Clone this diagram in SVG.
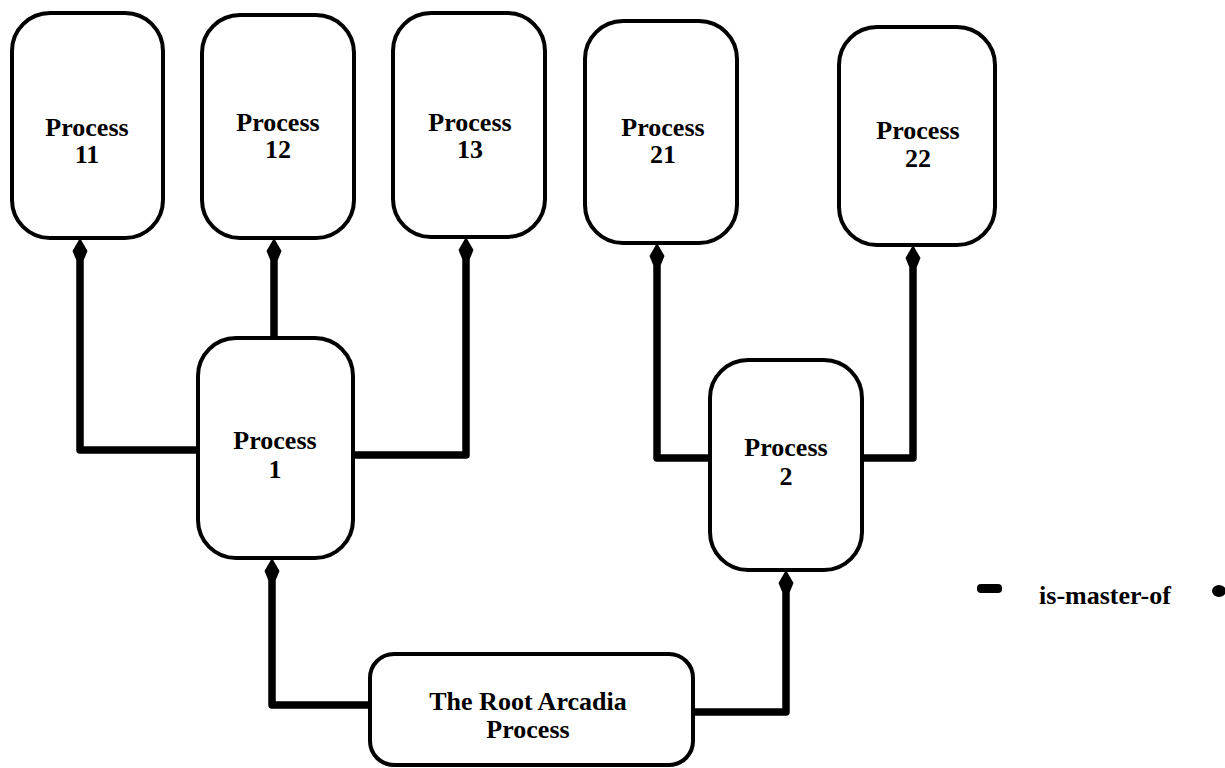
<svg xmlns="http://www.w3.org/2000/svg" width="1225" height="768" viewBox="0 0 1225 768">
<style>
.node{fill:#fff;stroke:#000;stroke-width:4}
.lbl{font-family:"Liberation Serif","Times New Roman",serif;font-size:26px;font-weight:bold;text-anchor:middle;fill:#000}
.conn{fill:none;stroke:#000;stroke-width:7.5;stroke-linejoin:round}
</style>
<defs>
<marker id="ah" markerUnits="userSpaceOnUse" orient="auto" refX="0" refY="0" markerWidth="30" markerHeight="20" viewBox="-2 -10 30 20" overflow="visible">
<path d="M22,0 L9,-7.5 L0,-3.8 L0,3.8 L9,7.5 Z" fill="#000"/>
</marker>
</defs>
<rect width="1225" height="768" fill="#fff"/>
<g id="connectors">
<path class="conn" d="M198,450 H80 V260" marker-end="url(#ah)"/>
<path class="conn" d="M274,338 V260" marker-end="url(#ah)"/>
<path class="conn" d="M352,455 H466 V259" marker-end="url(#ah)"/>
<path class="conn" d="M710,458 H657 V265" marker-end="url(#ah)"/>
<path class="conn" d="M862,458 H913 V267" marker-end="url(#ah)"/>
<path class="conn" d="M370,705 H272 V580" marker-end="url(#ah)"/>
<path class="conn" d="M692,712 H786 V592" marker-end="url(#ah)"/>
</g>
<g id="p11"><rect class="node" x="12" y="13" width="151" height="225" rx="38"/><text class="lbl" x="87" y="136">Process</text><text class="lbl" x="87" y="163">11</text></g>
<g id="p12"><rect class="node" x="202" y="15" width="152" height="223" rx="38"/><text class="lbl" x="278" y="131">Process</text><text class="lbl" x="278" y="158">12</text></g>
<g id="p13"><rect class="node" x="393" y="13" width="152" height="224" rx="38"/><text class="lbl" x="470" y="131">Process</text><text class="lbl" x="470" y="158">13</text></g>
<g id="p21"><rect class="node" x="585" y="21" width="152" height="222" rx="38"/><text class="lbl" x="663" y="136">Process</text><text class="lbl" x="663" y="163">21</text></g>
<g id="p22"><rect class="node" x="839" y="27" width="156" height="218" rx="38"/><text class="lbl" x="918" y="139">Process</text><text class="lbl" x="918" y="167">22</text></g>
<g id="p1"><rect class="node" x="198" y="338" width="155" height="220" rx="38"/><text class="lbl" x="275" y="449">Process</text><text class="lbl" x="275" y="478">1</text></g>
<g id="p2"><rect class="node" x="710" y="360" width="152" height="210" rx="38"/><text class="lbl" x="786" y="456">Process</text><text class="lbl" x="786" y="485">2</text></g>
<g id="root"><rect class="node" x="370" y="654" width="323" height="111" rx="24"/><text class="lbl" x="528" y="710">The Root Arcadia</text><text class="lbl" x="528" y="738">Process</text></g>
<g id="legend">
<rect x="977" y="584" width="25" height="9" rx="4" fill="#000"/>
<text class="lbl" x="1105" y="604">is-master-of</text>
<ellipse cx="1219" cy="591" rx="7" ry="6" fill="#000"/>
</g>
</svg>
